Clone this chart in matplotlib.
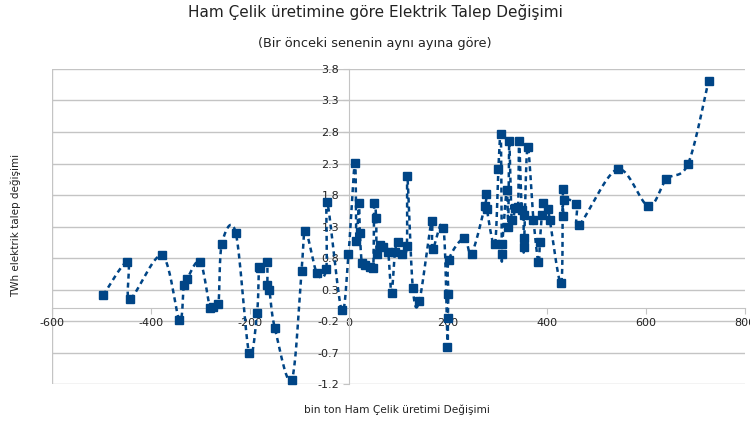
import numpy as np
import matplotlib
matplotlib.use("Agg")
import matplotlib.pyplot as plt

# steel production change (thousand t) vs electricity demand change (TWh)
steel_change = [-497, -448, -443, -378, -343, -334, -328, -301, -281, -274,
                -264, -257, -229, -202, -186, -182, -179, -166, -165, -161,
                -150, -116, -96, -88, -65, -46, -44, -15, -1, 12,
                15, 20, 22, 26, 32, 42, 49, 51, 55, 56,
                63, 69, 79, 86, 93, 100, 107, 117, 118, 129,
                142, 167, 169, 191, 199, 200, 201, 202, 233, 248,
                275, 278, 279, 295, 302, 307, 309, 310, 319, 322,
                324, 329, 336, 342, 344, 349, 353, 353, 354, 361,
                373, 383, 386, 390, 393, 403, 406, 429, 432, 433,
                435, 460, 466, 543, 605, 642, 686, 727]
demand_change = [0.21, 0.74, 0.15, 0.84, -0.18, 0.37, 0.46, 0.74, 0.00, 0.03,
                 0.07, 1.03, 1.20, -0.71, -0.08, 0.66, 0.64, 0.73, 0.37, 0.29,
                 -0.31, -1.14, 0.60, 1.23, 0.56, 0.63, 1.69, -0.02, 0.86, 2.31,
                 1.07, 1.67, 1.19, 0.72, 0.69, 0.66, 0.64, 1.68, 1.43, 0.87,
                 1.01, 0.98, 0.90, 0.25, 0.90, 1.06, 0.87, 0.99, 2.10, 0.33,
                 0.11, 1.39, 0.94, 1.28, -0.61, -0.15, 0.23, 0.77, 1.12, 0.87,
                 1.63, 1.82, 1.57, 1.02, 2.21, 2.77, 0.87, 1.02, 1.88, 1.30,
                 2.65, 1.40, 1.60, 1.61, 2.65, 1.56, 1.48, 1.11, 0.98, 2.56,
                 1.41, 0.73, 1.06, 1.48, 1.68, 1.57, 1.41, 0.40, 1.89, 1.46,
                 1.72, 1.65, 1.33, 2.21, 1.63, 2.05, 2.30, 3.61]

x_ticks = [-600, -400, -200, 0, 200, 400, 600, 800]
y_ticks = [-1.2, -0.7, -0.2, 0.3, 0.8, 1.3, 1.8, 2.3, 2.8, 3.3, 3.8]

blue = "#004586"
grid_col = "#c4c4c4"
text_col = "#222222"


def smooth_curve(x, y, sx, sy, n=24):
    # bezier smoothing like office charts, done in screen-like units
    p = np.column_stack([np.asarray(x) * sx, np.asarray(y) * sy])
    ext = np.vstack([p[0], p, p[-1]])
    out = []
    for i in range(len(p) - 1):
        p0, p1, p2, p3 = ext[i], ext[i + 1], ext[i + 2], ext[i + 3]
        c1 = p1 + (p2 - p0) / 6
        c2 = p2 - (p3 - p1) / 6
        t = np.linspace(0, 1, n)[:, None]
        seg = ((1 - t) ** 3) * p1 + 3 * ((1 - t) ** 2) * t * c1 \
            + 3 * (1 - t) * t ** 2 * c2 + t ** 3 * p2
        out.append(seg)
    out = np.vstack(out)
    return out[:, 0] / sx, out[:, 1] / sy


fig = plt.figure(figsize=(7.5, 4.22), dpi=100)
ax = fig.add_axes([0.0697, 0.0900, 0.9231, 0.7465])

ax.set_xlim(-600, 800)
ax.set_ylim(-1.2, 3.8)

for yv in y_ticks:
    ax.axhline(yv, color=grid_col, lw=1.0, zorder=0)
ax.axvline(-600, color=grid_col, lw=1.0, zorder=0)

for s in ["top", "right"]:
    ax.spines[s].set_visible(False)
ax.spines["left"].set_position(("data", 0))
ax.spines["bottom"].set_position(("data", 0))
ax.spines["left"].set_color(grid_col)
ax.spines["bottom"].set_color(grid_col)

ax.set_xticks(x_ticks)
ax.set_xticklabels([str(v) for v in x_ticks])
ax.set_yticks(y_ticks)
ax.set_yticklabels([f"{v:.1f}" for v in y_ticks])
ax.tick_params(axis="both", labelsize=8, colors=grid_col, labelcolor=text_col,
               length=4, pad=3)

sx, sy = 0.4945, 63.0
cx, cy = smooth_curve(steel_change, demand_change, sx, sy)
ax.plot(cx, cy, color=blue, lw=1.8, linestyle=(0, (2.0, 1.6)), zorder=3,
        clip_on=False)
ax.plot(steel_change, demand_change, linestyle="none", marker="s",
        markersize=6.2, color=blue, zorder=4, clip_on=False)

fig.text(0.5, 1 - 12 / 422, "Ham Çelik üretimine göre Elektrik Talep Değişimi",
         ha="center", va="center", fontsize=11, color=text_col)
fig.text(0.5, 1 - 44 / 422, "(Bir önceki senenin aynı ayına göre)",
         ha="center", va="center", fontsize=9.3, color=text_col)
fig.text(397 / 750, 1 - 410 / 422, "bin ton Ham Çelik üretimi Değişimi",
         ha="center", va="center", fontsize=7.6, color=text_col)
fig.text(16 / 750, 1 - 225 / 422, "TWh elektrik talep değişimi",
         ha="center", va="center", rotation=90, fontsize=7.5, color=text_col)

fig.savefig("out.png", dpi=100)
